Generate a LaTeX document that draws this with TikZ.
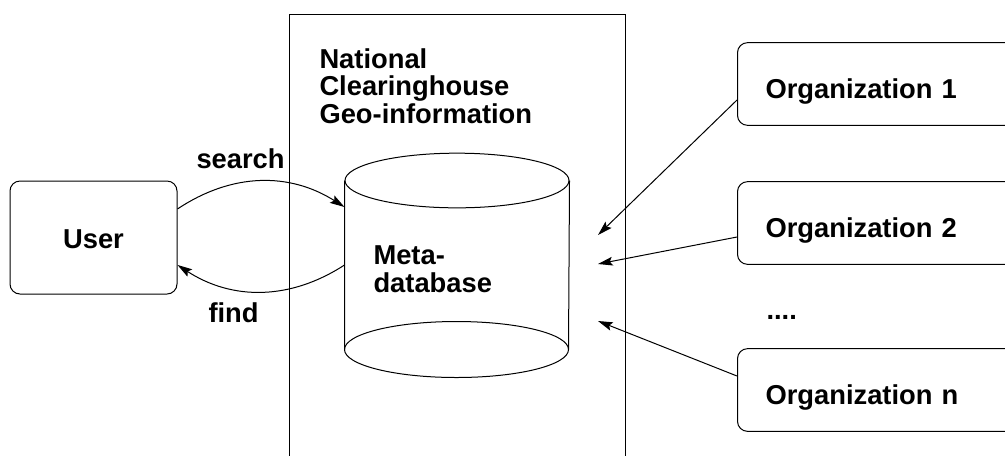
\documentclass[tikz,border=0pt]{standalone}
\usepackage{fontspec}
\setmainfont{Liberation Sans}
\usetikzlibrary{arrows.meta}
\tikzset{
    every node/.style={font=\fontsize{20.5}{20.5}\selectfont\bfseries, inner sep=0pt},
    roundbox/.style={draw, rounded corners=7.5pt},
    orgbox/.style={roundbox, anchor=base west, text width=185pt, align=left,
        inner xsep=21pt, inner ysep=0pt, text height=41.5pt, text depth=20.5pt},
    flow/.style={-{Stealth[length=11pt, width=6.5pt, inset=2pt]}},
}

\begin{document}
\begin{tikzpicture}[x=0.75pt, y=0.75pt, line width=0.75pt]
    \path[use as bounding box, clip] (0,0) rectangle (1005,-455);

    % clearinghouse frame
    \draw (289,-14) rectangle (625,-470);
    \node[anchor=base west, align=left] (title) at (319,-123) {National\\Clearinghouse\\Geo-information};

    % meta-database
    \node[minimum width=168pt, minimum height=126pt] (db) at (457,-265) {};
    \draw (db.north west) -- (db.south west)
        arc[start angle=180, end angle=360, x radius=84pt, y radius=21pt] -- (db.north east);
    \draw (db.north) ellipse[x radius=84pt, y radius=20.5pt];
    \draw (db.south west) arc[start angle=180, end angle=0, x radius=84pt, y radius=21pt];
    \node[anchor=base west, align=left] (dblabel) at (373,-292) {Meta-\\database};

    % user
    \node[roundbox, anchor=base, minimum width=125.25pt, text height=50.25pt, text depth=34.5pt] (user) at (93.5,-248) {User};
    \draw[flow] ([yshift=21.4pt]user.east) to[bend left=33] ([yshift=43.5pt]db.west);
    \draw[flow] (db.west) to[bend left=33] ([yshift=-20.6pt]user.east);
    \node[anchor=base west] (search) at (196,-168) {search};
    \node[anchor=base west] (find) at (208,-322) {find};

    % organizations
    \node[orgbox] (org1) at (737,-98) {Organization 1};
    \node[orgbox] (org2) at (737,-237) {Organization 2};
    \node[anchor=base west] (dots) at (766,-319) {....};
    \node[orgbox] (orgn) at (737,-404) {Organization n};

    \coordinate (t1) at (598,-235);
    \coordinate (t2) at (598,-264);
    \coordinate (tn) at (598,-321);
    \draw[flow] ([yshift=-12pt]org1.west) -- (t1);
    \draw[flow] ([yshift=-10.5pt]org2.west) -- (t2);
    \draw[flow] ([yshift=10.5pt]orgn.west) -- (tn);
\end{tikzpicture}
\end{document}
